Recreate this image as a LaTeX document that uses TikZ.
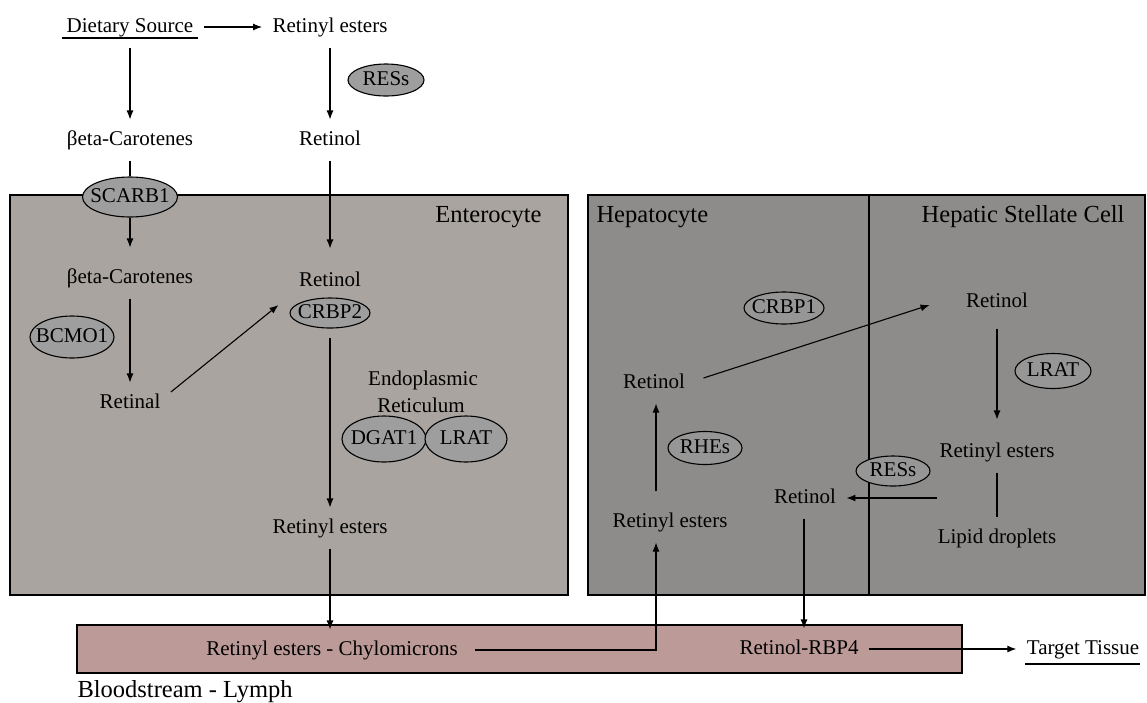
\documentclass[tikz,border=0pt]{standalone}
\usepackage{fontspec}
\setmainfont{Liberation Serif}
\usetikzlibrary{shapes.geometric,arrows.meta}

\definecolor{entero}{RGB}{169,164,159}
\definecolor{liver}{RGB}{141,140,139}
\definecolor{blood}{RGB}{188,154,152}
\definecolor{enzA}{RGB}{158,158,158}
\definecolor{enzB}{RGB}{150,150,150}

\tikzset{
	txt/.style={inner sep=10pt, text height=15pt, text depth=5pt},
	ttl/.style={inner sep=0pt, font=\fontsize{24.5}{28}\selectfont},
	enzyme/.style 2 args={ellipse, draw, fill=enzA, inner xsep=-20pt, inner ysep=-6pt,
		text height=15pt, text depth=5pt, minimum width=#1, minimum height=#2},
	arr/.style={-{Latex[length=9pt,width=7pt]}}
}

\begin{document}
\begin{tikzpicture}[x=1pt,y=-1pt,line width=1.1pt,font=\fontsize{21}{25}\selectfont]
		\useasboundingbox (0,0) rectangle (1147,702);

		% cells
		\draw[fill=entero] (10,195) rectangle (568,595);
		\draw[fill=liver] (588,195) rectangle (1145,595);
		\draw (869,195) -- (869,595);
		\draw[fill=blood] (77,625) rectangle (962,673);

		% titles
		\node[ttl, anchor=base east] (enteroT) at (542,222) {Enterocyte};
		\node[ttl, anchor=base west] (hepT) at (596,222) {Hepatocyte};
		\node[ttl, anchor=base east] (hscT) at (1125,222) {Hepatic Stellate Cell};
		\node[ttl, anchor=base west] (bloodT) at (77,697) {Bloodstream - Lymph};

		% diet
		\node[txt] (diet) at (130,27) {Dietary Source};
		\node[txt] (resTop) at (330,27) {Retinyl esters};
		\node[txt] (betaTop) at (130,140) {βeta-Carotenes};
		\node[txt] (rolTop) at (330,140) {Retinol};
		\node[enzyme={76pt}{32pt}] (ressTop) at (386,80) {RESs};
		\node[enzyme={95pt}{40pt}] (scarb) at (130,197) {SCARB1};

		% enterocyte
		\node[txt] (betaIn) at (130,278) {βeta-Carotenes};
		\node[txt] (rolIn) at (330,281) {Retinol};
		\node[enzyme={80pt}{30pt}] (crbp2) at (330,313) {CRBP2};
		\node[enzyme={84pt}{42pt}] (bcmo) at (72,337) {BCMO1};
		\node[txt] (retinal) at (130,403) {Retinal};
		\node[txt] (endo) at (423,380) {Endoplasmic};
		\node[txt] (retic) at (421,407) {Reticulum};
		\node[enzyme={84pt}{46pt}] (dgat) at (384,439) {DGAT1};
		\node[enzyme={82pt}{46pt}] (lratE) at (466,439) {LRAT};
		\node[txt] (reIn) at (330,528) {Retinyl esters};

		% liver
		\node[enzyme={80pt}{32pt}, fill=enzB] (crbp1) at (784,308) {CRBP1};
		\node[txt] (hscRol) at (997,302) {Retinol};
		\node[txt] (hepRol) at (654,383) {Retinol};
		\node[enzyme={76pt}{35pt}, fill=enzB] (lratH) at (1053,371) {LRAT};
		\node[txt] (hscRE) at (997,452) {Retinyl esters};
		\node[txt] (lipid) at (997,538) {Lipid droplets};
		\node[enzyme={74pt}{30pt}, fill=enzB] (ressH) at (893,471) {RESs};
		\node[txt] (hepRol2) at (805,498) {Retinol};
		\node[enzyme={74pt}{33pt}, fill=enzB] (rhes) at (705,448) {RHEs};
		\node[txt] (hepRE) at (670,522) {Retinyl esters};
		\coordinate (resOut) at (937,498);

		% blood
		\node[txt] (chylo) at (332,650) {Retinyl esters - Chylomicrons};
		\node[txt] (rbp4) at (799,649) {Retinol-RBP4};
		\node[txt] (target) at (1083,649) {Target Tissue};

		% underlines
		\draw ([shift={(6pt,-6pt)}]diet.base west) -- ([shift={(-6pt,-6pt)}]diet.base east);
		\draw ([shift={(9pt,-10pt)}]target.base west) -- ([shift={(-10pt,-10pt)}]target.base east);

		% arrows
		\draw[arr] (diet) -- (resTop);
		\draw[arr] (diet) -- (betaTop);
		\draw[arr] (resTop) -- (rolTop);
		\draw (betaTop) -- (scarb);
		\draw[arr, shorten >=10pt] (scarb) -- (betaIn);
		\draw[arr, shorten >=12pt] (rolTop) -- (rolIn);
		\draw[arr] (betaIn) -- (retinal);
		\draw[arr] ([yshift=11pt]retinal.east) -- ([shift={(-11pt,8pt)}]crbp2.west);
		\draw[arr, shorten <=9pt] (crbp2) -- (reIn);
		\draw[arr] (reIn) -- (reIn |- chylo.north);
		\draw[arr, shorten <=7pt] (chylo.east) -| ([xshift=-14pt]hepRE.south);
		\draw[arr, shorten <=10pt] ([xshift=-14pt]hepRE.north) -- ([xshift=-14pt]hepRE.north |- hepRol.south);
		\draw[arr] ([shift={(8pt,5pt)}]hepRol.east) -- ([shift={(-26pt,-3pt)}]hscRol.west);
		\draw[arr, shorten <=6pt, shorten >=12pt] (hscRol) -- (hscRE);
		\draw (hscRE) -- (lipid);
		\draw[arr] (resOut) -- (hepRol2);
		\draw[arr] ([xshift=-1pt]hepRol2.south) -- ([xshift=-1pt]hepRol2.south |- rbp4.north);
		\draw[arr] (rbp4) -- (target);
	\end{tikzpicture}
\end{document}
